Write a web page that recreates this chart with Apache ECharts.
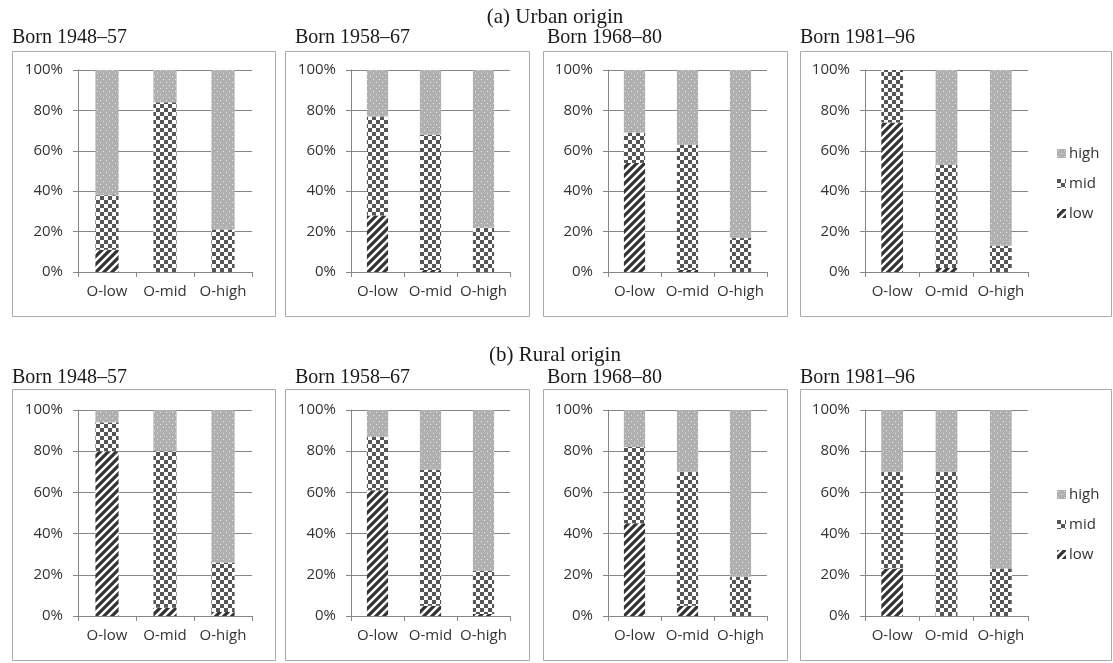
<!DOCTYPE html>
<html>
<head>
<meta charset="utf-8">
<script src="https://cdn.jsdelivr.net/npm/echarts@6/dist/echarts.min.js"></script>
<style>
  html, body { margin: 0; padding: 0; background: #ffffff; }
  #chart { width: 1113px; height: 663px; }
</style>
</head>
<body>
<div id="chart"></div>
<script>
// Origin class on the x axis, cohort per panel, destination class per stack segment
const categories = ['O-low', 'O-mid', 'O-high'];
const cohorts = ['Born 1948–57', 'Born 1958–67', 'Born 1968–80', 'Born 1981–96'];
const rowTitles = ['(a) Urban origin', '(b) Rural origin'];
const classNames = ['low', 'mid', 'high'];
const legendOrder = ['high', 'mid', 'low'];

// Shares (%) per cohort, each listed as [O-low, O-mid, O-high]
const urbanLow  = [[11, 0, 0], [28, 1, 0], [54, 1, 0], [74, 2, 0]];
const urbanMid  = [[27, 84, 21], [49, 67, 22], [15, 62, 17], [26, 51, 13]];
const urbanHigh = [[62, 16, 79], [23, 32, 78], [31, 37, 83], [0, 47, 87]];

const ruralLow  = [[80, 4, 2], [61, 5, 1], [45, 5, 0], [23, 0, 0]];
const ruralMid  = [[14, 76, 24], [26, 66, 21], [37, 65, 19], [47, 70, 23]];
const ruralHigh = [[6, 20, 74], [13, 29, 78], [18, 30, 81], [30, 30, 77]];

const rowData = [
  [urbanLow, urbanMid, urbanHigh],
  [ruralLow, ruralMid, ruralHigh]
];

// Panel geometry (pixels)
const columns = [
  { box: [12, 275], plot: [78, 252], titleX: 12 },
  { box: [285, 529], plot: [351, 510], titleX: 295 },
  { box: [543, 787], plot: [608, 767], titleX: 547 },
  { box: [800, 1111], plot: [865, 1028], titleX: 800 }
];
const rows = [
  { headerY: 17, titleY: 38, box: [51, 316], plot: [70, 272], legendTop: 141 },
  { headerY: 355, titleY: 378, box: [389, 660], plot: [410, 616], legendTop: 482 }
];

const sansFont = '"Open Sans", "Liberation Sans", sans-serif';
const serifFont = '"Liberation Serif", "DejaVu Serif", serif';
const axisGrey = '#868686';
const labelSize = 15;

// Fill patterns drawn on small tiles
function tile(w, h, draw) {
  const c = document.createElement('canvas');
  c.width = w; c.height = h;
  draw(c.getContext('2d'));
  return c;
}
const hatchTile = tile(8, 8, ctx => {
  ctx.fillStyle = '#ffffff';
  ctx.fillRect(0, 0, 8, 8);
  ctx.strokeStyle = '#333333';
  ctx.lineWidth = 3.2;
  ctx.beginPath();
  [-8, 0, 8].forEach(k => { ctx.moveTo(k - 1, 9); ctx.lineTo(k + 9, -1); });
  ctx.stroke();
});
const checkTile = tile(8, 8, ctx => {
  ctx.fillStyle = '#ffffff';
  ctx.fillRect(0, 0, 8, 8);
  ctx.fillStyle = '#555555';
  ctx.fillRect(0, 0, 4, 4);
  ctx.fillRect(4, 4, 4, 4);
});
const dotTile = tile(6, 6, ctx => {
  ctx.fillStyle = '#b0b0b0';
  ctx.fillRect(0, 0, 6, 6);
  ctx.fillStyle = '#e6e6e6';
  ctx.fillRect(1, 1, 1, 1);
  ctx.fillRect(4, 4, 1, 1);
});
const patterns = {
  low:  { image: hatchTile, repeat: 'repeat' },
  mid:  { image: checkTile, repeat: 'repeat' },
  high: { image: dotTile, repeat: 'repeat' }
};

const grids = [], xAxes = [], yAxes = [], series = [], graphics = [], legends = [];

rows.forEach((row, r) => {
  graphics.push({
    type: 'text', x: 555, y: row.headerY,
    style: { text: rowTitles[r], font: '21px ' + serifFont, fill: '#1a1a1a',
             textAlign: 'center', textVerticalAlign: 'middle' }
  });
  columns.forEach((col, c) => {
    const idx = r * columns.length + c;
    graphics.push({
      type: 'rect',
      shape: { x: col.box[0] + 0.5, y: row.box[0] + 0.5,
               width: col.box[1] - col.box[0], height: row.box[1] - row.box[0] },
      style: { fill: 'none', stroke: '#a8a8a8', lineWidth: 1 }
    });
    graphics.push({
      type: 'text', x: col.titleX, y: row.titleY,
      style: { text: cohorts[c], font: '20px ' + serifFont, fill: '#1a1a1a',
               textAlign: 'left', textVerticalAlign: 'middle' }
    });
    grids.push({
      left: col.plot[0], top: row.plot[0],
      width: col.plot[1] - col.plot[0], height: row.plot[1] - row.plot[0]
    });
    xAxes.push({
      type: 'category', gridIndex: idx, data: categories,
      axisLine: { show: true, lineStyle: { color: axisGrey, width: 1 } },
      axisTick: { show: true, length: 5, lineStyle: { color: axisGrey } },
      axisLabel: { interval: 0, fontSize: labelSize, fontFamily: sansFont,
                   color: '#333333', margin: 12 },
      splitLine: { show: false }
    });
    yAxes.push({
      type: 'value', gridIndex: idx, min: 0, max: 100, interval: 20,
      axisLine: { show: true, lineStyle: { color: axisGrey, width: 1 } },
      axisTick: { show: true, length: 5, lineStyle: { color: axisGrey } },
      axisLabel: { fontSize: labelSize, fontFamily: sansFont, color: '#333333', margin: 15,
                   formatter: '{value}%' },
      splitLine: { show: true, lineStyle: { color: axisGrey, width: 1 } }
    });
    classNames.forEach((name, k) => {
      series.push({
        type: 'bar', name: name, stack: 'panel' + idx,
        xAxisIndex: idx, yAxisIndex: idx,
        barWidth: '40%',
        data: rowData[r][k][c],
        itemStyle: { color: patterns[name] },
        emphasis: { disabled: true },
        silent: true
      });
    });
  });
  legends.push({
    data: legendOrder, orient: 'vertical',
    left: 1052, top: row.legendTop,
    icon: 'rect', itemWidth: 9, itemHeight: 9, itemGap: 15,
    selectedMode: false,
    textStyle: { fontSize: labelSize, fontFamily: sansFont, color: '#333333',
                 padding: [0, 0, 0, -2] }
  });
});

const chart = echarts.init(document.getElementById('chart'), null, { renderer: 'canvas' });
chart.setOption({
  animation: false,
  backgroundColor: '#ffffff',
  grid: grids,
  xAxis: xAxes,
  yAxis: yAxes,
  legend: legends,
  series: series,
  graphic: graphics
});
</script>
</body>
</html>
